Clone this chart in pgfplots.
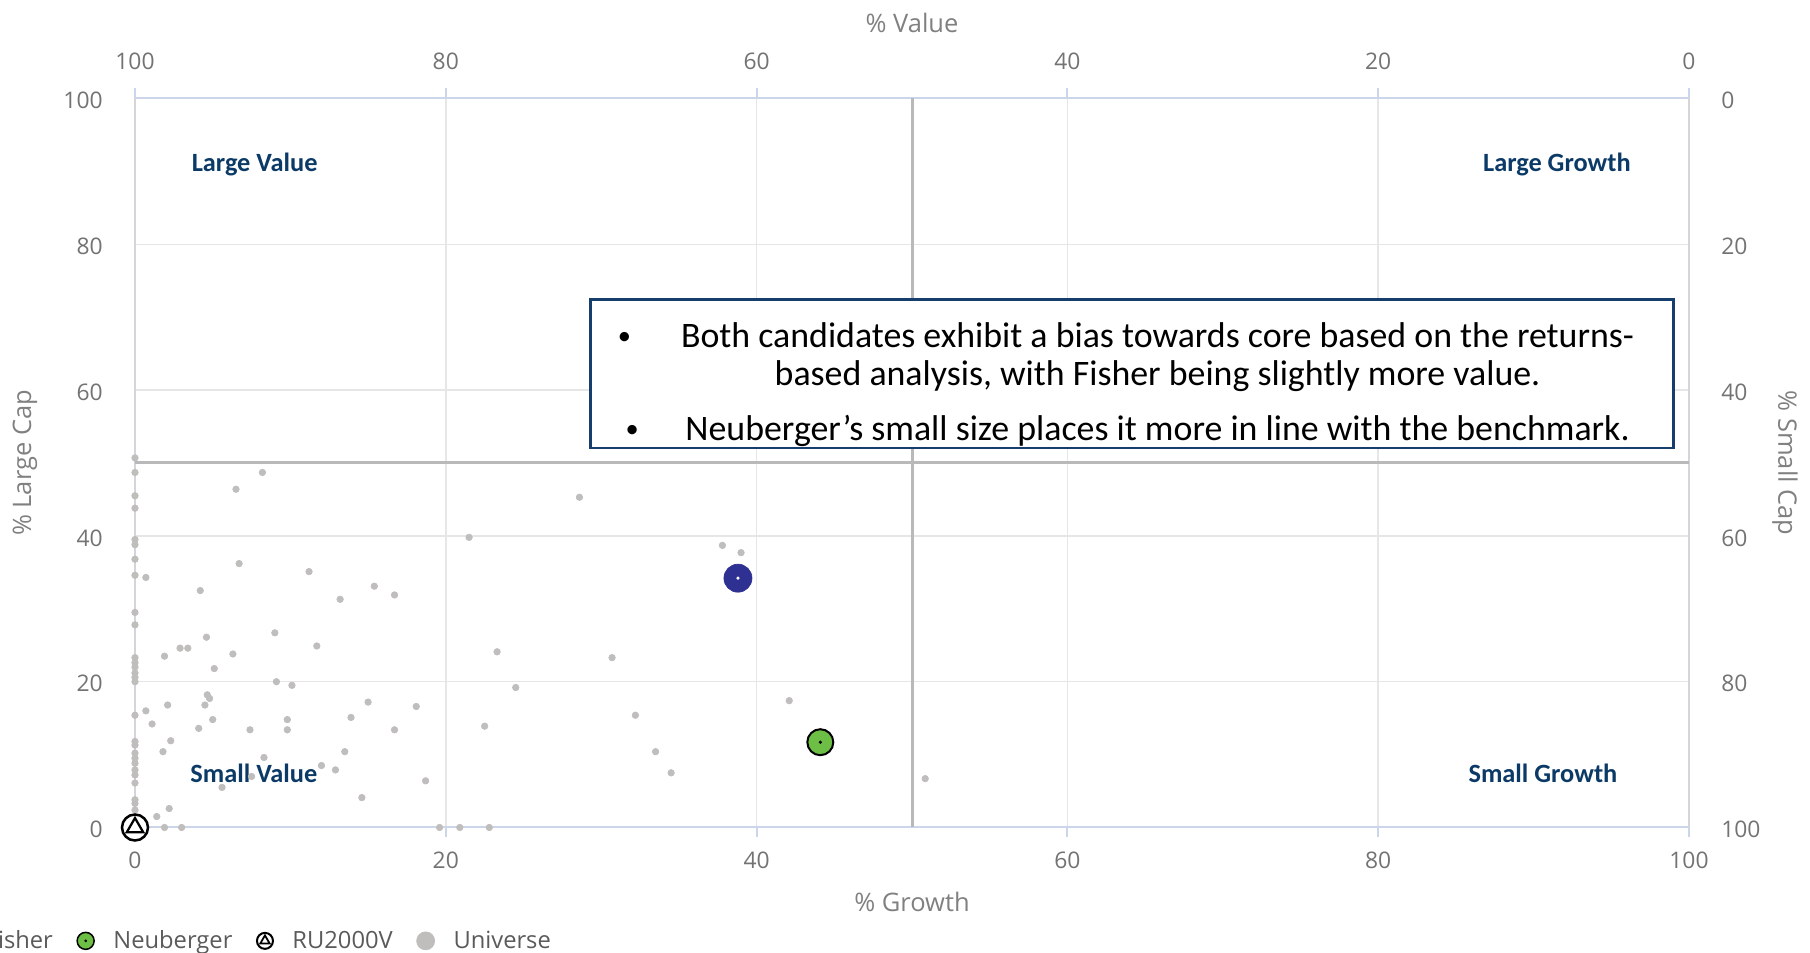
\documentclass[border=0pt]{standalone}
\usepackage{fontspec}
\setmainfont{Open Sans}
\newfontfamily\calib{Carlito}
\usepackage{pgfplots}
\usepackage{pgfplotstable}
\pgfplotsset{compat=1.18}

\definecolor{univ}{RGB}{192,189,189}
\definecolor{gridc}{RGB}{230,230,230}
\definecolor{edgec}{RGB}{212,212,218}
\definecolor{midc}{RGB}{185,185,185}
\definecolor{axc}{RGB}{204,214,235}
\definecolor{tickc}{RGB}{115,115,115}
\definecolor{titc}{RGB}{128,128,128}
\definecolor{legc}{RGB}{90,90,90}
\definecolor{navy}{RGB}{12,58,102}
\definecolor{boxc}{RGB}{22,62,108}
\definecolor{fisher}{RGB}{46,49,146}
\definecolor{neub}{RGB}{108,190,69}

% universe of managers (% growth, % large cap)
\pgfplotstableread{
x y
0 50.7
0 48.7
0 45.5
0 43.8
0 39.5
0 38.8
0 36.8
0 34.6
0 29.5
0 27.8
0 23.3
0 22.6
0 22.0
0 21.2
0 20.6
0 20.0
0 15.4
0 11.8
0 11.3
0 10.2
0 9.5
0 8.8
0 7.9
0 7.2
0 6.1
0 3.8
0 3.3
0 2.4
0.7 34.3
6.5 46.4
8.2 48.7
6.7 36.2
11.2 35.1
4.2 32.5
15.4 33.1
16.7 31.9
13.2 31.3
9.0 26.7
4.6 26.1
2.9 24.6
3.4 24.6
1.9 23.5
6.3 23.8
11.7 24.9
5.1 21.8
9.1 20.0
10.1 19.5
4.65 18.2
4.8 17.7
4.5 16.8
15.0 17.2
2.1 16.8
0.7 16.0
1.1 14.2
5.0 14.8
9.8 14.8
9.8 13.4
4.1 13.6
7.4 13.4
13.9 15.1
16.7 13.4
2.3 11.9
1.8 10.4
8.3 9.6
13.5 10.4
12.0 8.5
12.9 7.9
7.5 7.0
5.6 5.5
14.6 4.1
2.2 2.6
1.4 1.5
1.9 0
3.0 0
28.6 45.3
21.5 39.8
37.8 38.7
39.0 37.7
23.3 24.1
30.7 23.3
24.5 19.2
18.1 16.6
42.1 17.4
32.2 15.4
22.5 13.9
33.5 10.4
34.5 7.5
50.85 6.7
18.7 6.4
19.6 0
20.9 0
22.8 0
}\universe

\pgfplotsset{quad/.style={
  scale only axis, width=31.08cm, height=14.58cm,
  xmin=0, xmax=100, ymin=0, ymax=100,
  xtick={0,20,...,100}, ytick={0,20,...,100},
  tick align=outside, major tick length=0.2cm,
  xtick style={color=axc, line width=0.04cm},
  ytick style={draw=none},
  /pgf/number format/assume math mode=true,
  ticklabel style={font=\fontsize{13}{15}\selectfont, text=tickc, inner sep=0pt},
  label style={font=\fontsize{14.5}{17}\selectfont, text=titc},
}}

\begin{document}
\begin{tikzpicture}
\begin{axis}[quad, name=ax,
  xtick pos=left, xticklabel pos=left, ytick pos=left, yticklabel pos=left,
  separate axis lines,
  x axis line style={color=axc, line width=0.04cm},
  y axis line style={color=edgec, line width=0.04cm},
  grid=major, grid style={color=gridc, line width=0.03cm},
  clip=false,
  xlabel={\% Growth}, ylabel={\% Large Cap},
  xlabel style={at={(axis description cs:0.5,-0.1015)}, anchor=center},
  ylabel style={at={(axis description cs:-0.0708,0.5)}, anchor=center},
  xticklabel style={yshift=-0.28cm},
  yticklabel style={xshift=-0.44cm, yshift=-0.04cm},
  legend columns=4,
  legend style={draw=none, fill=none, at={(axis description cs:0.2735,-0.1555)}, anchor=east,
    font=\fontsize{13.5}{15}\selectfont, text=legc,
    /tikz/every odd column/.append style={column sep=0.3cm},
    /tikz/every even column/.append style={column sep=0.4cm}},
]
\addplot[midc, line width=0.06cm, forget plot] coordinates {(50,0) (50,100)};
\addplot[midc, line width=0.06cm, forget plot] coordinates {(0,50) (100,50)};
\addplot[only marks, color=univ, mark=*, mark size=0.065cm, mark options={draw=univ, fill=univ}, forget plot] table {\universe};
% Fisher
\addplot[only marks, color=fisher, mark=*, mark size=0.28cm, mark options={draw=fisher, fill=fisher}, forget plot] coordinates {(38.8,34.2)};
\addplot[only marks, color=white, mark=*, mark size=0.025cm, mark options={draw=white, fill=white}, forget plot] coordinates {(38.8,34.2)};
% Neuberger
\addplot[only marks, color=black, mark=*, mark size=0.26cm, mark options={draw=black, line width=0.04cm, fill=neub}, forget plot] coordinates {(44.1,11.7)};
\addplot[only marks, color=black, mark=*, mark size=0.025cm, mark options={draw=black, fill=black}, forget plot] coordinates {(44.1,11.7)};
% RU2000V
\addplot[only marks, color=black, mark=*, mark size=0.26cm, mark options={draw=black, line width=0.05cm, fill=white}, forget plot] coordinates {(0,0)};
\addplot[only marks, color=black, mark=triangle, mark size=0.19cm, mark options={draw=black, line width=0.045cm, fill=white}, forget plot] coordinates {(0,0)};

\addlegendimage{legend image code/.code={\fill[fisher] (0.18cm,0) circle (0.18cm); \fill[white] (0.18cm,0) circle (0.02cm);}}
\addlegendentry{Fisher}
\addlegendimage{legend image code/.code={\filldraw[fill=neub, draw=black, line width=0.03cm] (0.18cm,0) circle (0.17cm); \fill[black] (0.18cm,0) circle (0.02cm);}}
\addlegendentry{Neuberger}
\addlegendimage{legend image code/.code={\draw[black, line width=0.04cm] (0.18cm,0) circle (0.16cm); \draw[black, line width=0.035cm] (0.18cm,0.11cm) -- (0.275cm,-0.055cm) -- (0.085cm,-0.055cm) -- cycle;}}
\addlegendentry{RU2000V}
\addlegendimage{legend image code/.code={\fill[univ] (0.18cm,0) circle (0.18cm);}}
\addlegendentry{Universe}

% commentary box
\draw[boxc, line width=0.05cm, fill=white] (axis cs:29.3,52.05) rectangle (axis cs:99.0,72.4);
\begin{scope}[every node/.style={font=\calib\fontsize{20.4}{24}\selectfont, text=black, inner sep=0pt}]
\node[anchor=base, font=\calib\fontsize{15}{18}\selectfont, yshift=0.05cm] at (axis cs:31.5,65.85) {•};
\node[anchor=base] at (axis cs:65.8,65.85) {Both candidates exhibit a bias towards core based on the returns-};
\node[anchor=base] at (axis cs:65.8,60.6) {based analysis, with Fisher being slightly more value.};
\node[anchor=base, font=\calib\fontsize{15}{18}\selectfont, yshift=0.05cm] at (axis cs:32.0,53.1) {•};
\node[anchor=base] at (axis cs:65.8,53.1) {Neuberger’s small size places it more in line with the benchmark.};
\end{scope}

% quadrant labels
\begin{scope}[every node/.style={font=\calib\bfseries\fontsize{15}{18}\selectfont, text=navy}]
\node at (axis cs:7.7,90.9) {Large Value};
\node at (axis cs:91.5,90.9) {Large Growth};
\node at (axis cs:7.65,7.4) {Small Value};
\node at (axis cs:90.6,7.4) {Small Growth};
\end{scope}
\end{axis}

\begin{axis}[quad, at={(ax.south west)}, anchor=south west,
  x dir=reverse, y dir=reverse,
  xtick pos=right, xticklabel pos=right, ytick pos=right, yticklabel pos=right,
  axis line style={draw=none},
  xlabel={\% Value}, ylabel={\% Small Cap},
  xlabel style={at={(axis description cs:0.5,1.1043)}, anchor=center},
  ylabel style={at={(axis description cs:1.0618,0.5)}, anchor=center, rotate=180},
  xticklabel style={yshift=0.36cm},
  yticklabel style={xshift=0.44cm, yshift=-0.04cm},
]
\end{axis}

\pgfresetboundingbox
\path[use as bounding box] ([xshift=-2.70cm,yshift=-2.51cm]ax.south west) rectangle ([xshift=33.50cm,yshift=16.55cm]ax.south west);
\end{tikzpicture}
\end{document}
